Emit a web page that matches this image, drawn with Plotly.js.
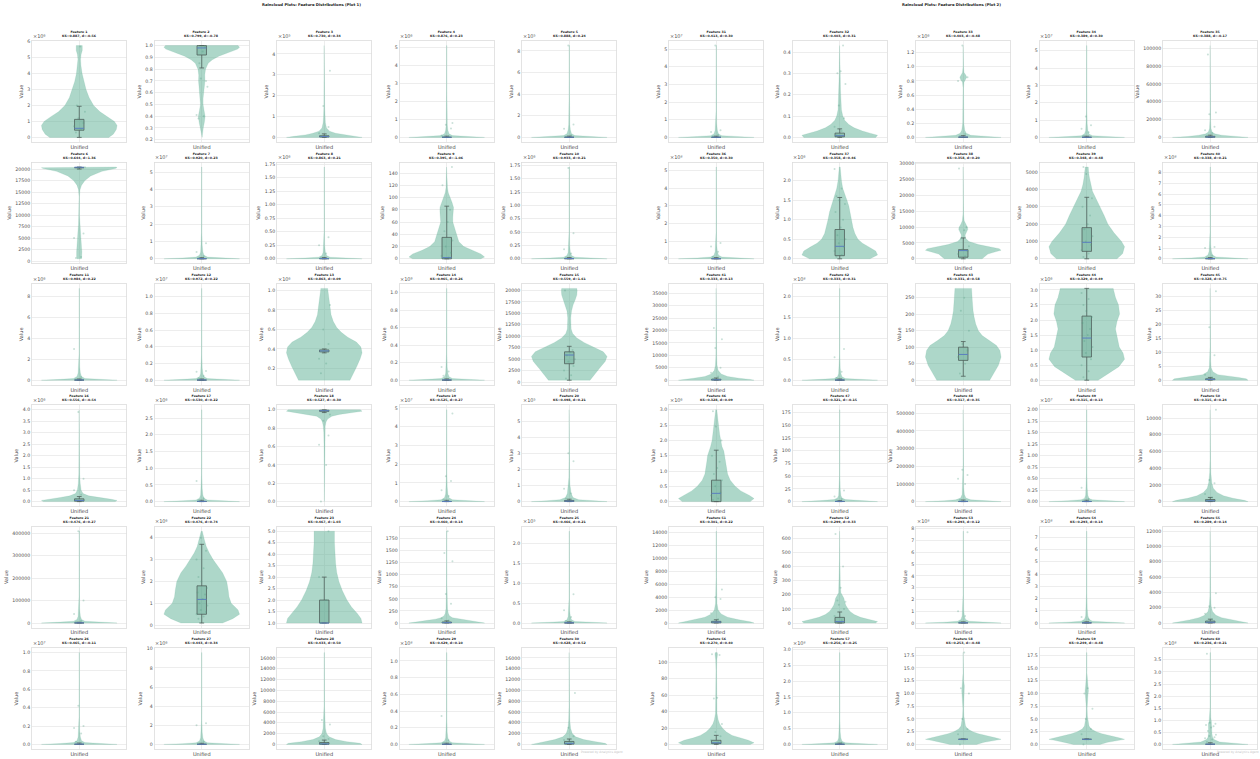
<!DOCTYPE html>
<html><head><meta charset="utf-8">
<script src="https://cdn.plot.ly/plotly-3.0.1.min.js"></script>
<style>html,body{margin:0;padding:0;background:#fff;}#chart{width:1260px;height:759px;}</style>
</head><body><div id="chart"></div>
<script>
// ---------------- DATA ----------------
const plotTitles = ['Raincloud Plots: Feature Distributions (Plot 1)', 'Raincloud Plots: Feature Distributions (Plot 2)'];
const xCategory = ['Unified'];
const yLabel = 'Value';
const featureNames = ['Feature 1','Feature 2','Feature 3','Feature 4','Feature 5','Feature 6','Feature 7','Feature 8','Feature 9','Feature 10',
 'Feature 11','Feature 12','Feature 13','Feature 14','Feature 15','Feature 16','Feature 17','Feature 18','Feature 19','Feature 20',
 'Feature 21','Feature 22','Feature 23','Feature 24','Feature 25','Feature 26','Feature 27','Feature 28','Feature 29','Feature 30',
 'Feature 31','Feature 32','Feature 33','Feature 34','Feature 35','Feature 36','Feature 37','Feature 38','Feature 39','Feature 40',
 'Feature 41','Feature 42','Feature 43','Feature 44','Feature 45','Feature 46','Feature 47','Feature 48','Feature 49','Feature 50',
 'Feature 51','Feature 52','Feature 53','Feature 54','Feature 55','Feature 56','Feature 57','Feature 58','Feature 59','Feature 60'];
const ksValues = [0.887,0.799,0.730,0.876,0.888, 0.644,0.920,0.863,0.395,0.933, 0.984,0.972,0.863,0.965,0.559, 0.556,0.530,0.527,0.525,0.498,
 0.476,0.476,0.467,0.460,0.466, 0.465,0.443,0.433,0.429,0.428, 0.413,0.403,0.403,0.389,0.388, 0.350,0.358,0.358,0.348,0.338,
 0.333,0.333,0.331,0.329,0.328, 0.328,0.321,0.317,0.315,0.315, 0.301,0.299,0.293,0.293,0.289, 0.270,0.256,0.253,0.249,0.236];
const dValues = [-0.56,-0.78,0.34,0.23,0.24, 1.36,0.23,0.21,-1.06,0.21, 0.22,0.22,0.09,0.26,1.61, -0.54,0.22,-0.30,0.27,0.21,
 0.27,0.74,1.03,0.14,0.21, -0.11,0.34,0.50,0.10,0.52, 0.30,0.31,-0.48,0.30,-0.17, 0.30,0.46,0.20,-0.48,0.21,
 0.13,0.31,0.58,0.49,0.75, 0.09,-0.15,0.35,0.13,0.24, 0.22,0.33,0.12,0.14,0.14, 0.40,-0.25,-0.48,-0.48,0.21];
// power of ten shown as offset text (0 = none); values below are in displayed units
const sciExponents = [6,0,5,6,5, 0,7,6,0,6, 6,7,6,9,0, 6,6,0,7,5, 0,6,0,0,5, 7,6,0,8,0,
 7,0,6,7,0, 8,6,0,0,8, 0,8,0,6,0, 6,0,0,7,0, 0,0,8,8,0, 0,8,0,0,8];
const tickSteps = [1,0.1,1,1,2, 2500,1,0.25,20,0.25, 2,0.2,0.2,0.2,2500, 0.5,0.5,0.2,1,1, 100000,1,0.5,250,0.5, 0.2,2,2000,0.2,2000,
 1,0.1,0.2,1,20000, 1,0.5,5000,1000,1, 5000,0.5,50,0.5,5, 0.5,25,100000,0.25,2000, 2000,100,1,1,2000, 20,0.5,2.5,2.5,0.5];
const tickDecimals = [0,1,0,0,0, 0,0,2,0,2, 0,1,1,1,0, 1,1,1,0,0, 0,0,1,0,1, 1,0,0,1,0,
 0,1,1,0,0, 0,1,0,0,0, 0,1,0,1,0, 1,0,0,2,0, 0,0,0,0,0, 0,1,1,1,1];
// box stats: [lower whisker, Q1, median, Q3, upper whisker]
const boxStats = [
 [0,0.45,0.57,1.13,1.95],[0.81,0.92,0.98,1.0,1.0],[0,0.02,0.04,0.08,0.17],[0,0.005,0.01,0.03,0.07],[0,0.01,0.02,0.05,0.12],
 [20000,20300,20400,20450,20450],[0,0.005,0.01,0.03,0.07],[0,0.002,0.005,0.01,0.025],[0,0,2,35,86],[0,0.002,0.005,0.01,0.025],
 [0,0.01,0.02,0.05,0.12],[0,0.001,0.003,0.006,0.015],[0.36,0.37,0.38,0.39,0.40],[0,0.001,0.003,0.006,0.015],[400,4000,5900,6600,7800],
 [0,0.02,0.05,0.12,0.22],[0,0.003,0.008,0.02,0.04],[0.97,0.983,0.99,0.995,1.0],[0,0.005,0.01,0.03,0.07],[0,0.01,0.03,0.07,0.15],
 [0,300,700,1500,3500],[0.1,0.5,1.18,1.8,3.7],[1,1,1,2,3],[0,3,8,20,45],[0,0.002,0.005,0.012,0.03],
 [0,0.001,0.003,0.006,0.015],[0,0.01,0.02,0.05,0.12],[0,30,100,350,800],[0,0.001,0.003,0.006,0.015],[0,60,200,550,1000],
 [0,0.005,0.01,0.03,0.07],[0,0.003,0.008,0.02,0.04],[0,0.002,0.005,0.01,0.025],[0,0.005,0.01,0.03,0.07],[0,200,500,1200,2500],
 [0,0.005,0.01,0.03,0.07],[0,0.08,0.32,0.75,1.57],[0,500,2600,2900,6600],[0,430,950,1800,3550],[0,0.01,0.02,0.05,0.12],
 [0,50,150,400,900],[0,0.002,0.005,0.012,0.03],[12,60,78,100,117],[0,0.77,1.4,2.13,3.05],[0,0.2,0.3,0.5,1],
 [0,0,0.27,0.7,1.68],[0,0.2,0.5,1,2],[0,500,1500,4000,9000],[0,0.002,0.005,0.012,0.03],[0,30,100,250,500],
 [0,30,150,250,500],[0,0,10,40,78],[0,0.01,0.02,0.05,0.1],[0,0.01,0.02,0.05,0.1],[0,30,100,250,500],
 [0,1,2,5,11],[0,0.003,0.008,0.02,0.04],[0.95,1,1,1.05,1.1],[0.95,1,1,1.05,1.1],[0,0.005,0.01,0.03,0.07]];
// violin outline: [value, relative half-width]
const violinProfiles = [
 [[0,0.78],[0.2,0.9],[0.5,0.98],[0.75,1],[1.0,0.93],[1.3,0.75],[1.6,0.55],[2.0,0.38],[2.5,0.26],[3.0,0.18],[3.5,0.12],[4.0,0.075],[4.5,0.045],[4.9,0.035],[5.2,0.05],[5.45,0.08],[5.75,0.08]],
 [[0.22,0.01],[0.26,0.02],[0.3,0.04],[0.35,0.07],[0.4,0.09],[0.45,0.06],[0.5,0.035],[0.55,0.035],[0.6,0.05],[0.65,0.07],[0.7,0.085],[0.75,0.08],[0.8,0.1],[0.85,0.17],[0.88,0.28],[0.91,0.45],[0.94,0.72],[0.97,0.95],[0.985,1],[1.0,0.96]],
 [[0,1],[0.05,0.8],[0.12,0.5],[0.2,0.3],[0.3,0.14],[0.45,0.06],[0.7,0.03],[1.0,0.018],[1.5,0.01],[2.5,0.006],[4.4,0.004]],
 [[0,1],[0.05,0.5],[0.1,0.15],[0.2,0.06],[0.4,0.03],[0.7,0.015],[1.2,0.007],[2.5,0.005],[5.1,0.004]],
 [[0,1],[0.08,0.5],[0.17,0.15],[0.35,0.06],[0.7,0.03],[1.2,0.015],[2,0.007],[4,0.005],[8.5,0.004]],
 [[500,0.06],[1000,0.07],[2000,0.07],[3000,0.06],[4000,0.05],[5000,0.045],[6000,0.04],[7000,0.03],[8000,0.02],[9000,0.01],[10000,0.005],[14000,0.005],[15500,0.02],[16500,0.06],[17500,0.15],[18500,0.3],[19500,0.6],[20100,0.95],[20300,1],[20450,0.97]],
 [[0,1],[0.05,0.5],[0.1,0.15],[0.2,0.06],[0.4,0.03],[0.8,0.012],[1.5,0.006],[5.3,0.004]],
 [[0,1],[0.015,0.5],[0.03,0.15],[0.06,0.06],[0.12,0.03],[0.25,0.012],[0.5,0.006],[1.7,0.004]],
 [[0,0.9],[3,1],[8,0.9],[14,0.65],[20,0.45],[28,0.32],[36,0.27],[44,0.24],[52,0.2],[60,0.16],[68,0.16],[76,0.18],[84,0.18],[92,0.14],[100,0.08],[108,0.04],[116,0.02],[125,0.012],[140,0.008],[150,0.006]],
 [[0,1],[0.015,0.5],[0.03,0.15],[0.06,0.06],[0.12,0.03],[0.25,0.012],[0.5,0.006],[1.72,0.004]],
 [[0,1],[0.08,0.5],[0.17,0.15],[0.35,0.06],[0.7,0.03],[1.3,0.012],[2.5,0.006],[8.8,0.004]],
 [[0,1],[0.01,0.5],[0.02,0.15],[0.04,0.06],[0.08,0.03],[0.15,0.012],[0.3,0.006],[1.1,0.004]],
 [[0.08,0.68],[0.15,0.78],[0.22,0.86],[0.3,0.95],[0.36,1],[0.42,0.97],[0.47,0.85],[0.52,0.62],[0.57,0.45],[0.62,0.33],[0.68,0.24],[0.75,0.18],[0.82,0.15],[0.9,0.13],[0.96,0.11],[1.02,0.09]],
 [[0,1],[0.01,0.5],[0.02,0.15],[0.04,0.06],[0.08,0.03],[0.15,0.012],[0.3,0.006],[1.05,0.004]],
 [[400,0.55],[1500,0.65],[3000,0.8],[4500,0.95],[5600,1],[6600,0.9],[7600,0.65],[8600,0.4],[9600,0.2],[10600,0.09],[11600,0.05],[12600,0.04],[14000,0.04],[15500,0.06],[16800,0.1],[18000,0.16],[19000,0.2],[20000,0.21],[20450,0.2]],
 [[0,0.95],[0.05,1],[0.1,0.85],[0.18,0.5],[0.25,0.25],[0.35,0.1],[0.5,0.05],[0.8,0.025],[1.2,0.012],[2,0.006],[4,0.004]],
 [[0,1],[0.025,0.5],[0.05,0.15],[0.1,0.06],[0.2,0.03],[0.4,0.012],[0.8,0.006],[2.75,0.004]],
 [[0,0.003],[0.3,0.004],[0.6,0.006],[0.75,0.012],[0.82,0.025],[0.87,0.05],[0.9,0.09],[0.93,0.2],[0.95,0.4],[0.97,0.75],[0.985,1],[1.0,0.95]],
 [[0,1],[0.05,0.5],[0.1,0.15],[0.2,0.06],[0.4,0.03],[0.8,0.012],[1.5,0.006],[4.9,0.004]],
 [[0,1],[0.05,0.6],[0.12,0.25],[0.25,0.1],[0.5,0.05],[0.8,0.035],[1.0,0.02],[1.5,0.01],[3,0.006],[5.7,0.004]],
 [[0,1],[4000,0.5],[8000,0.15],[16000,0.06],[30000,0.03],[60000,0.012],[120000,0.006],[410000,0.004]],
 [[0.1,0.55],[0.3,0.82],[0.5,1],[0.7,0.96],[1.0,0.78],[1.3,0.72],[1.6,0.7],[2.0,0.66],[2.4,0.55],[2.7,0.42],[3.0,0.3],[3.3,0.2],[3.6,0.12],[3.9,0.07],[4.1,0.04],[4.3,0.015]],
 [[1.0,1],[1.2,0.97],[1.4,0.88],[1.7,0.72],[2.0,0.6],[2.4,0.48],[2.8,0.39],[3.2,0.33],[3.6,0.3],[4.0,0.28],[4.5,0.27],[5.0,0.27]],
 [[0,1],[20,0.85],[50,0.55],[80,0.3],[110,0.15],[150,0.07],[200,0.04],[300,0.02],[500,0.01],[800,0.006],[1900,0.004]],
 [[0,1],[0.02,0.5],[0.04,0.15],[0.08,0.06],[0.16,0.03],[0.3,0.012],[0.6,0.006],[2.3,0.004]],
 [[0,1],[0.01,0.5],[0.02,0.15],[0.04,0.06],[0.08,0.03],[0.15,0.012],[0.3,0.006],[1.0,0.004]],
 [[0,1],[0.08,0.5],[0.17,0.15],[0.35,0.06],[0.7,0.03],[1.3,0.012],[2.5,0.006],[9.6,0.004]],
 [[0,1],[200,0.95],[500,0.6],[900,0.3],[1400,0.13],[2000,0.06],[3000,0.03],[4500,0.015],[7000,0.007],[17000,0.004]],
 [[0,1],[0.01,0.5],[0.02,0.15],[0.04,0.06],[0.08,0.03],[0.15,0.012],[0.3,0.006],[1.1,0.004]],
 [[0,1],[200,0.95],[500,0.7],[900,0.38],[1400,0.17],[2000,0.08],[3000,0.035],[4500,0.015],[7000,0.007],[17000,0.004]],
 [[0,1],[0.05,0.5],[0.1,0.15],[0.2,0.06],[0.4,0.03],[0.8,0.012],[1.5,0.006],[5.2,0.004]],
 [[0,0.95],[0.01,1],[0.02,0.8],[0.03,0.6],[0.045,0.38],[0.06,0.24],[0.08,0.13],[0.1,0.08],[0.13,0.045],[0.17,0.028],[0.22,0.02],[0.3,0.013],[0.43,0.005]],
 [[0,1],[0.015,0.5],[0.03,0.2],[0.06,0.08],[0.1,0.04],[0.2,0.015],[0.4,0.008],[0.7,0.006],[0.78,0.02],[0.82,0.07],[0.85,0.09],[0.88,0.07],[0.92,0.02],[1.0,0.006],[1.3,0.004]],
 [[0,1],[0.05,0.5],[0.1,0.15],[0.2,0.06],[0.4,0.03],[0.8,0.012],[1.5,0.006],[5.3,0.004]],
 [[0,1],[1000,0.6],[2500,0.3],[4000,0.12],[6000,0.05],[10000,0.02],[20000,0.008],[40000,0.005],[103000,0.004]],
 [[0,1],[0.05,0.5],[0.1,0.15],[0.2,0.06],[0.4,0.03],[0.8,0.012],[1.5,0.006],[5.2,0.004]],
 [[0,0.8],[0.1,1],[0.2,0.95],[0.3,0.78],[0.4,0.6],[0.5,0.48],[0.65,0.4],[0.8,0.35],[1.0,0.31],[1.2,0.27],[1.35,0.24],[1.5,0.19],[1.65,0.13],[1.8,0.08],[2.0,0.045],[2.2,0.025],[2.35,0.012]],
 [[0,0.5],[500,0.55],[1500,0.65],[2200,0.85],[2700,1],[3200,0.95],[3800,0.7],[4500,0.4],[5500,0.15],[6500,0.06],[7500,0.05],[8500,0.09],[9300,0.12],[10000,0.11],[11000,0.06],[12000,0.025],[14000,0.008],[18000,0.004],[29000,0.003]],
 [[0,0.8],[300,0.95],[700,1],[1000,0.92],[1500,0.72],[2000,0.56],[2500,0.46],[3000,0.36],[3500,0.24],[3900,0.15],[4300,0.1],[4700,0.07],[5000,0.05],[5300,0.04]],
 [[0,1],[0.08,0.5],[0.17,0.15],[0.35,0.06],[0.7,0.03],[1.3,0.012],[2.5,0.006],[8.5,0.004]],
 [[0,1],[300,0.9],[800,0.6],[1500,0.3],[2500,0.13],[4000,0.05],[6000,0.022],[10000,0.01],[20000,0.005],[37000,0.004]],
 [[0,1],[0.02,0.5],[0.04,0.15],[0.08,0.06],[0.16,0.03],[0.3,0.012],[0.6,0.006],[2.2,0.004]],
 [[0,0.7],[20,0.8],[45,0.93],[70,1],[90,0.97],[105,0.88],[120,0.68],[135,0.5],[150,0.4],[170,0.33],[190,0.29],[210,0.26],[240,0.24],[278,0.22]],
 [[0,0.3],[0.2,0.55],[0.45,0.85],[0.7,1],[0.9,0.96],[1.1,0.86],[1.4,0.8],[1.7,0.76],[1.95,0.8],[2.2,0.87],[2.5,0.84],[2.75,0.76],[3.05,0.7]],
 [[0,1],[0.5,0.95],[1,0.75],[1.5,0.45],[2,0.2],[3,0.07],[4.5,0.025],[7,0.01],[12,0.006],[33,0.004]],
 [[0,0.9],[0.1,1],[0.2,0.88],[0.35,0.65],[0.5,0.5],[0.7,0.37],[0.9,0.3],[1.1,0.27],[1.3,0.25],[1.5,0.23],[1.65,0.2],[1.8,0.15],[2.0,0.11],[2.2,0.09],[2.5,0.06],[2.75,0.035],[3.0,0.015]],
 [[0,1],[2,0.5],[4,0.15],[7,0.06],[12,0.03],[25,0.012],[50,0.006],[180,0.004]],
 [[0,1],[5000,0.5],[10000,0.2],[20000,0.07],[40000,0.03],[80000,0.012],[120000,0.01],[150000,0.02],[170000,0.01],[220000,0.005],[520000,0.004]],
 [[0,1],[0.02,0.5],[0.04,0.15],[0.07,0.06],[0.14,0.03],[0.3,0.012],[0.6,0.006],[2.0,0.004]],
 [[0,1],[150,0.9],[400,0.6],[700,0.35],[1100,0.18],[1600,0.08],[2300,0.04],[3500,0.015],[5000,0.007],[11000,0.004]],
 [[0,1],[200,0.9],[500,0.6],[900,0.3],[1400,0.13],[2000,0.05],[3000,0.02],[4500,0.01],[7000,0.006],[14200,0.004]],
 [[0,0.95],[10,1],[25,0.78],[40,0.55],[60,0.38],[80,0.28],[100,0.22],[125,0.16],[150,0.13],[175,0.11],[195,0.07],[215,0.03],[260,0.015],[350,0.01],[450,0.007],[650,0.005]],
 [[0,1],[0.07,0.5],[0.15,0.15],[0.3,0.06],[0.6,0.03],[1.2,0.012],[2.4,0.006],[7.8,0.004]],
 [[0,1],[0.07,0.5],[0.15,0.15],[0.3,0.06],[0.6,0.03],[1.2,0.012],[2.4,0.006],[7.5,0.004]],
 [[0,1],[150,0.85],[400,0.55],[700,0.3],[1000,0.15],[1500,0.06],[2200,0.025],[3500,0.01],[6000,0.006],[12000,0.004]],
 [[0,0.9],[2,1],[5,0.85],[8,0.6],[11,0.42],[15,0.27],[20,0.16],[25,0.09],[30,0.05],[38,0.02],[48,0.015],[55,0.028],[58,0.03],[62,0.02],[70,0.01],[90,0.008],[103,0.015],[107,0.035],[110,0.035],[112,0.025]],
 [[0,1],[0.025,0.5],[0.05,0.15],[0.1,0.06],[0.2,0.03],[0.4,0.012],[0.8,0.006],[2.9,0.004]],
 [[0,0.35],[0.4,0.55],[0.8,0.85],[1.0,1],[1.3,0.85],[1.7,0.6],[2.1,0.4],[2.5,0.25],[3,0.12],[3.6,0.06],[4.5,0.035],[5.5,0.018],[7,0.01],[8.5,0.015],[9.5,0.03],[10.5,0.04],[11.5,0.03],[12.5,0.012],[14,0.006],[18,0.004]],
 [[0,0.35],[0.4,0.55],[0.8,0.85],[1.0,1],[1.3,0.85],[1.7,0.6],[2.1,0.4],[2.5,0.25],[3,0.12],[3.6,0.06],[4.5,0.035],[5.5,0.018],[7,0.01],[8.5,0.015],[9.5,0.03],[10.5,0.045],[11.5,0.03],[12.5,0.012],[14,0.006],[18,0.004]],
 [[0,1],[0.04,0.6],[0.1,0.25],[0.2,0.1],[0.3,0.06],[0.45,0.045],[0.6,0.04],[0.75,0.05],[0.85,0.05],[0.95,0.03],[1.1,0.015],[1.5,0.007],[3.8,0.004]]];
// individual observations drawn as the "rain"
const pointValues = [
 [0.3,0.5,0.7,0.9,1.2,1.6,2.0,5.7],[0.38,0.4,0.41,0.7,0.72,0.65,0.85,0.95,0.99],[0.05,0.1,0.2,0.5,1.5,3.2],[0.02,0.05,0.1,0.5,0.7,0.8],[0.05,0.2,0.8,1.2,8.5],
 [700,900,5000,6000,20200,20400],[0.05,0.15,0.4,0.9],[0.02,0.1,0.25,0.4],[1,2,5,10,20,30,45,60,80,120,150],[0.02,0.1,0.18,0.48,1.7],
 [0.1,0.3,3.0],[0.02,0.05,0.1,0.11],[0.15,0.25,0.3,0.45,0.6,0.85],[0.05,0.1,0.15],[800,1500,2500,3500,4500,5000,5800,6500,7000,20000],
 [0.1,0.3,0.5,1.0,3.9],[0.03,0.1,0.62],[0,0.4,0.62,0.72,0.88,0.95],[0.1,0.3,0.6,1.1,1.35,4.7],[0.2,0.5,0.8,2.5,3.0],
 [5000,10000,40000,100000,410000],[0.3,0.4,0.5,0.6,0.7,0.9,1.0,1.2,1.4,1.5,1.7,2.0,2.2,2.6,3.0,3.4,4.0],[1,2,3,5],[10,50,100,400,600,1280,1450,1900],[0.05,0.15,0.32,0.72],
 [0.03,0.12,0.18,0.2,0.42],[0.1,0.3,2.0,2.2],[100,300,600,1000,1500,3700,4500],[0.02,0.05,0.34],[100,400,800,1500,3100,9500],
 [0.05,0.15,0.3,0.4,5.2],[0.01,0.03,0.05,0.09,0.15,0.25,0.3,0.31,0.43],[0.02,0.05,0.8,0.85,1.3],[0.1,0.3,0.5,0.7,1.2],[2000,5000,8000,12000,26000,28000,93000],
 [0.1,0.4,0.7,0.9],[0.05,0.1,0.2,0.3,0.4,0.5,0.6,0.8,1.0,1.2,1.4,1.5,1.6,1.8,2.3],[200,800,1500,2500,3000,4000,6400,9000,10000,28500],[100,300,500,800,1000,1300,1700,2000,2500,3000,3500,4900,5300],[0.1,0.3,1.0,1.1],
 [500,1500,3000,5000,13000,16500,21000],[0.05,0.2,0.55,0.75],[20,50,70,90,110,150,210,250],[0.1,0.3,0.5,0.7,0.9,1.1,1.3,1.5,1.7,1.9,2.1,2.3,2.5,2.7,2.9],[0.5,1,2,9,19,32],
 [0.05,0.1,0.2,0.3,0.5,0.7,0.9,1.1,1.3,1.5,2.0,2.45,2.95],[2,5,10,22],[10000,100000,130000,150000,180000],[0.02,0.06,0.3],[200,500,900,2200,2600,11000],
 [200,600,1500,3700,4000,5200],[5,20,50,100,130,150,160,250,400,630],[0.1,0.6,1.0,7.7],[0.1,0.3,0.5],[200,500,1200,2000,2200,3900],
 [1,3,5,10,15,25,56,57,109,110],[0.02,0.05],[0,1,2,3,5,10,11,18],[0,1,2,3,5,7,10,11],[0.1,0.2,0.25,0.3,0.35,0.4,0.55,0.7,0.75,0.8,0.85,0.9,3.75]];
const watermark = 'Powered by Analytics Agent';

// ---------------- LAYOUT / STYLE ----------------
const W = 1260, H = 759;
const colLeft = [[32,154.5,277,399.5,522],[669,792.5,916,1039.5,1163]];
const axW = 94.5, axH = 101, rowTop0 = 41, rowPitch = 121.4;
const FONT = 'DejaVu Sans, Liberation Sans, Arial, sans-serif';
const violinFill = 'rgba(92,176,148,0.5)';
const violinEdge = 'rgba(92,176,148,0.3)';
const boxFill = 'rgba(90,160,138,0.4)';
const boxEdge = '#4f5f5a';
const medianColor = '#5b7fc0';
const pointColor = 'rgba(80,155,130,0.3)';
const halfViolin = 0.4, boxHalf = 0.05, capHalf = 0.025;
const jitter = [-0.035,0.02,-0.055,0.045,-0.01,0.06,-0.025,0.01,0.035,-0.045,0.055,-0.005];
const SUP = {'0':'⁰','1':'¹','2':'²','3':'³','4':'⁴','5':'⁵','6':'⁶','7':'⁷','8':'⁸','9':'⁹'};
const supStr = n => String(n).split('').map(ch => SUP[ch]).join('');

const traces = [];
const layout = {
  width: W, height: H, margin: {l:0, r:0, t:0, b:0},
  paper_bgcolor: '#fff', plot_bgcolor: '#fff', showlegend: false,
  font: {family: FONT, color: '#444'}, annotations: []
};

for (let i = 0; i < featureNames.length; i++) {
  const g = i < 30 ? 0 : 1, j = i % 30, r = Math.floor(j / 5), c = j % 5;
  const left = colLeft[g][c], top = rowTop0 + r * rowPitch;
  const xs = i === 0 ? 'x' : 'x' + (i + 1), ys = i === 0 ? 'y' : 'y' + (i + 1);
  const xk = i === 0 ? 'xaxis' : 'xaxis' + (i + 1), yk = i === 0 ? 'yaxis' : 'yaxis' + (i + 1);
  const prof = violinProfiles[i];
  const lo = prof[0][0], hi = prof[prof.length - 1][0], pad = (hi - lo) * 0.05;

  layout[xk] = {
    domain: [left / W, (left + axW) / W], anchor: ys,
    range: [-0.5, 0.5], tickvals: [0], ticktext: xCategory,
    showgrid: true, gridcolor: '#e9e9e9', gridwidth: 0.8, zeroline: false,
    showline: true, mirror: true, linecolor: '#dcdcdc', linewidth: 0.8,
    ticks: '', tickfont: {family: FONT, size: 5, color: '#444'}, fixedrange: true
  };
  layout[yk] = {
    domain: [1 - (top + axH) / H, 1 - top / H], anchor: xs,
    range: [lo - pad, hi + pad], tick0: 0, dtick: tickSteps[i],
    tickformat: tickDecimals[i] ? '.' + tickDecimals[i] + 'f' : 'd',
    showgrid: true, gridcolor: '#e9e9e9', gridwidth: 0.8, zeroline: false,
    showline: true, mirror: true, linecolor: '#dcdcdc', linewidth: 0.8,
    ticks: '', tickfont: {family: FONT, size: 4.7, color: '#555'},
    title: {text: yLabel, font: {family: FONT, size: 5, color: '#444'}, standoff: 3},
    fixedrange: true
  };

  // violin
  const vx = [], vy = [];
  prof.forEach(p => { vx.push(p[1] * halfViolin); vy.push(p[0]); });
  for (let k = prof.length - 1; k >= 0; k--) { vx.push(-prof[k][1] * halfViolin); vy.push(prof[k][0]); }
  vx.push(vx[0]); vy.push(vy[0]);
  traces.push({type: 'scatter', mode: 'lines', x: vx, y: vy, xaxis: xs, yaxis: ys,
    fill: 'toself', fillcolor: violinFill, line: {color: violinEdge, width: 0.5}, hoverinfo: 'skip'});

  // box
  const [wl, q1, md, q3, wh] = boxStats[i];
  traces.push({type: 'scatter', mode: 'lines', xaxis: xs, yaxis: ys,
    x: [-boxHalf, boxHalf, boxHalf, -boxHalf, -boxHalf], y: [q1, q1, q3, q3, q1],
    fill: 'toself', fillcolor: boxFill, line: {color: boxEdge, width: 0.8}, hoverinfo: 'skip'});
  traces.push({type: 'scatter', mode: 'lines', xaxis: xs, yaxis: ys,
    x: [0, 0, null, 0, 0, null, -capHalf, capHalf, null, -capHalf, capHalf],
    y: [wl, q1, null, q3, wh, null, wl, wl, null, wh, wh],
    line: {color: boxEdge, width: 0.8}, hoverinfo: 'skip'});
  traces.push({type: 'scatter', mode: 'lines', xaxis: xs, yaxis: ys,
    x: [-boxHalf, boxHalf], y: [md, md], line: {color: medianColor, width: 1}, hoverinfo: 'skip'});

  // rain points
  const pv = pointValues[i];
  traces.push({type: 'scatter', mode: 'markers', xaxis: xs, yaxis: ys,
    x: pv.map((v, k) => jitter[k % jitter.length]), y: pv,
    marker: {size: 2, color: pointColor, line: {width: 0}}, hoverinfo: 'skip'});

  // subplot title (two lines)
  layout.annotations.push({xref: 'paper', yref: 'paper', x: (left + axW / 2) / W, y: 1 - (top - 0.8) / H,
    xanchor: 'center', yanchor: 'bottom', showarrow: false,
    text: '<b>' + featureNames[i] + '</b><br><b>KS=' + ksValues[i].toFixed(3) + ', d=' + dValues[i].toFixed(2) + '</b>',
    font: {family: FONT, size: 3.2, color: '#222'}});
  // offset text
  if (sciExponents[i]) {
    layout.annotations.push({xref: 'paper', yref: 'paper', x: (left - 1.5) / W, y: 1 - (top - 0.3) / H,
      xanchor: 'left', yanchor: 'bottom', showarrow: false,
      text: '×10' + supStr(sciExponents[i]), font: {family: FONT, size: 5, color: '#555'}});
  }
}

// main titles and watermarks
[311, 951].forEach((cx, g) => {
  layout.annotations.push({xref: 'paper', yref: 'paper', x: cx / W, y: 1 - 5 / H, xanchor: 'center', yanchor: 'middle',
    showarrow: false, text: '<b>' + plotTitles[g] + '</b>', font: {family: FONT, size: 3.8, color: '#222'}});
});
[602, 1238].forEach(cx => {
  layout.annotations.push({xref: 'paper', yref: 'paper', x: cx / W, y: 1 - 752 / H, xanchor: 'center', yanchor: 'middle',
    showarrow: false, text: watermark, font: {family: FONT, size: 3, color: '#c4c4c4'}});
});

Plotly.newPlot('chart', traces, layout, {staticPlot: true, displayModeBar: false});
</script>
</body></html>
